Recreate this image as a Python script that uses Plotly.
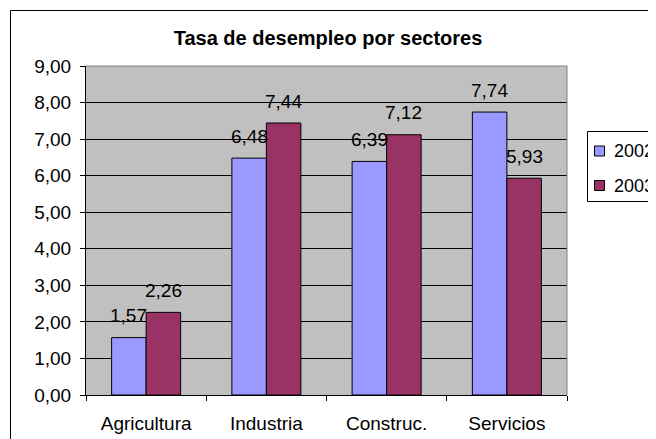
import plotly.graph_objects as go

categories = ["Agricultura", "Industria", "Construc.", "Servicios"]
series_names = ["2002", "2003"]
values_2002 = [1.57, 6.48, 6.39, 7.74]
values_2003 = [2.26, 7.44, 7.12, 5.93]
y_ticks = [0, 1, 2, 3, 4, 5, 6, 7, 8, 9]

FONT = "Arial, 'Liberation Sans', sans-serif"
FS = 19
OFF = 8  # page body margin of the html page
W, H = 656 - OFF, 439 - OFF
L, R, T, B = 86 - OFF, 567 - OFF, 66 - OFF, 395 - OFF
pw, ph = R - L, B - T


def px(x):
    """page x (reference pixels) -> paper coords"""
    return (x - OFF - L) / pw


def py(y):
    return (B - (y - OFF)) / ph


fig = go.Figure()
colors = ["#9999FF", "#993366"]
for name, vals, col in zip(series_names, [values_2002, values_2003], colors):
    fig.add_trace(go.Bar(
        x=categories, y=vals, name=name, showlegend=False,
        marker=dict(color=col, line=dict(color="black", width=1)),
    ))

BARGAP = 0.426
bar_px = pw / len(categories) * (1 - BARGAP) / 2
for i, vals in enumerate([values_2002, values_2003]):
    shift = (i - 0.5) * bar_px
    for c, v in zip(categories, vals):
        fig.add_annotation(
            x=c, y=v, xref="x", yref="y", text=f"{v:.2f}".replace(".", ","),
            showarrow=False, xshift=shift, yshift=22,
            font=dict(family=FONT, size=FS, color="black"),
        )

# outer chart border
fig.add_shape(type="rect", xref="paper", yref="paper",
              x0=px(10.5), x1=1.5, y0=-0.5, y1=py(10.5),
              line=dict(color="black", width=1), layer="below")
# plot area border (top/right gray)
fig.add_shape(type="line", xref="paper", yref="paper", x0=0, x1=1, y0=1, y1=1,
              line=dict(color="#808080", width=1))
fig.add_shape(type="line", xref="paper", yref="paper", x0=1, x1=1, y0=0, y1=1,
              line=dict(color="#808080", width=1))

# legend box
fig.add_shape(type="rect", xref="paper", yref="paper",
              x0=px(587.5), x1=px(700), y0=py(201.5), y1=py(131.5),
              line=dict(color="black", width=1), fillcolor="white")
legend_y = [151, 185.5]
for name, col, yc in zip(series_names, colors, legend_y):
    fig.add_shape(type="rect", xref="paper", yref="paper",
                  x0=px(594.5), x1=px(604.5), y0=py(yc + 5), y1=py(yc - 5),
                  line=dict(color="black", width=1), fillcolor=col)
    fig.add_annotation(x=px(612), y=py(yc), xref="paper", yref="paper",
                       text=name, showarrow=False, xanchor="left", yanchor="middle",
                       font=dict(family=FONT, size=FS - 1, color="black"))

fig.update_layout(
    width=W, height=H,
    margin=dict(l=L, r=W - R, t=T, b=H - B, autoexpand=False),
    paper_bgcolor="white", plot_bgcolor="#C0C0C0",
    separators=",.",
    bargap=BARGAP, bargroupgap=0,
    title=dict(text="<b>Tasa de desempleo por sectores</b>",
               x=(328 - OFF) / W, xref="container",
               y=1 - (38 - OFF) / H, yref="container", xanchor="center", yanchor="middle",
               font=dict(family=FONT, size=20, color="black")),
    font=dict(family=FONT, size=FS, color="black"),
    showlegend=False,
    xaxis=dict(showline=True, linecolor="black", linewidth=1, ticks="outside",
               tickson="boundaries", ticklen=5, tickcolor="black",
               ticklabelstandoff=11, showgrid=False, fixedrange=True,
               tickfont=dict(family=FONT, size=FS)),
    yaxis=dict(range=[0, 9], tickvals=y_ticks, tickformat=".2f", showline=True,
               linecolor="black", linewidth=1, ticks="outside", ticklen=5,
               tickcolor="black", showgrid=True, gridcolor="black", gridwidth=1,
               zeroline=False, ticklabelstandoff=5,
               tickfont=dict(family=FONT, size=FS)),
)

fig.write_html("out.html")
